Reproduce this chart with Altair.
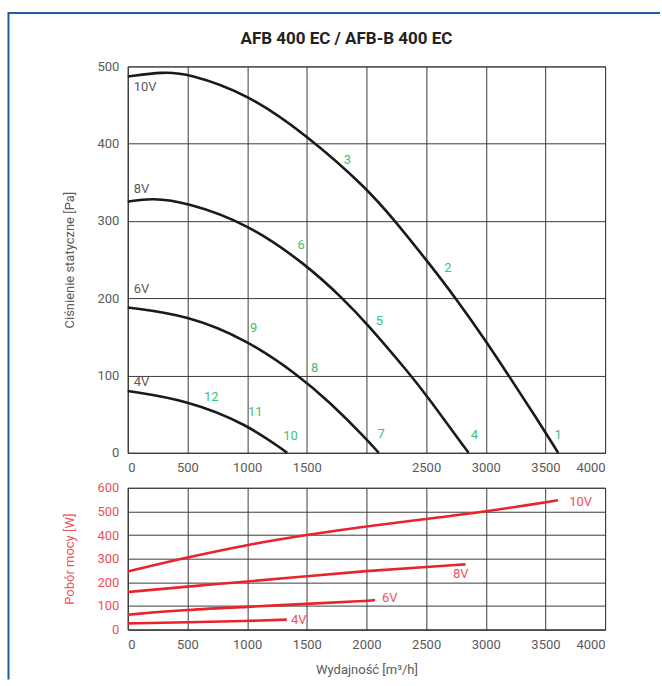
import altair as alt
import pandas as pd

# ---- static pressure curves [Pa] vs airflow [m3/h] ----
p10_x = [0, 300, 500, 1000, 1500, 2000, 2250, 2500, 2750, 3000, 3200, 3400, 3607]
p10_y = [487, 493, 491, 465, 411, 343, 298, 250, 200, 145, 98, 51, 0]
p8_x = [0, 200, 500, 1000, 1500, 1800, 2000, 2374, 2500, 2856]
p8_y = [325, 330, 324, 297, 243, 200, 168, 100, 75, 0]
p6_x = [0, 500, 1000, 1424, 1690, 2000, 2103]
p6_y = [188, 178, 146, 101, 66, 18, 0]
p4_x = [0, 500, 1000, 1336]
p4_y = [80, 68, 37, 0]

# operating point numbers (green)
pt_text = ["1", "2", "3", "4", "5", "6", "7", "8", "9", "10", "11", "12"]
pt_x = [3607, 2683, 1841, 2904, 2109, 1453, 2123, 1565, 1054, 1364, 1069, 700]
pt_y = [23, 239, 379, 23, 171, 269, 24, 110, 161, 22, 53, 72]

# voltage labels on pressure chart
vl_text = ["10V", "8V", "6V", "4V"]
vl_x = [50, 50, 50, 50]
vl_y = [473, 342, 212, 92]

# ---- power consumption [W] ----
w10_x = [0, 500, 1000, 1500, 2000, 2500, 3000, 3605]
w10_y = [246, 306, 359, 401, 437, 468, 499, 547]
w8_x = [0, 500, 1000, 1500, 2000, 2500, 2830]
w8_y = [159, 182, 203, 226, 248, 265, 276]
w6_x = [0, 500, 1000, 1500, 2000, 2072]
w6_y = [63, 84, 96, 109, 121, 125]
w4_x = [0, 500, 1000, 1332]
w4_y = [26, 31, 36, 42]

wl_text = ["10V", "8V", "6V", "4V"]
wl_x = [3700, 2791, 2196, 1367]
wl_y = [540, 234, 132, 42]
wl_align = ["left", "center", "center", "left"]

x_ticks = list(range(0, 4001, 500))
p_ticks = list(range(0, 501, 100))
w_ticks = list(range(0, 601, 100))

FONT = "Roboto"
GRAY = "#5a5a5a"
GRID = "#3c3c3c"
GREEN = "#3dbf72"
RED = "#e8232b"
RED_TXT = "#ee4f55"
BLUE = "#1f5c9c"

W, H1, H2 = 478, 387, 142


def series_df(names, xs, ys):
    rows = []
    for n, xx, yy in zip(names, xs, ys):
        for i, (a, b) in enumerate(zip(xx, yy)):
            rows.append({"s": n, "x": a, "y": b, "o": i})
    return pd.DataFrame(rows)


pres = series_df(["10V", "8V", "6V", "4V"], [p10_x, p8_x, p6_x, p4_x], [p10_y, p8_y, p6_y, p4_y])
powr = series_df(["10V", "8V", "6V", "4V"], [w10_x, w8_x, w6_x, w4_x], [w10_y, w8_y, w6_y, w4_y])
pts = pd.DataFrame({"t": pt_text, "x": pt_x, "y": pt_y})
vls = pd.DataFrame({"t": vl_text, "x": vl_x, "y": vl_y})
wls = pd.DataFrame({"t": wl_text, "x": wl_x, "y": wl_y, "a": wl_align})

xscale = alt.Scale(domain=[0, 4000], nice=False, zero=False)
pscale = alt.Scale(domain=[0, 500], nice=False)
wscale = alt.Scale(domain=[0, 600], nice=False)

x_top_axis = alt.Axis(values=x_ticks, format="d", title=None, labelOverlap=False,
                      labelExpr="datum.value == 2000 ? '' : datum.label")
y_top_axis = alt.Axis(values=p_ticks, format="d", title="Ciśnienie statyczne [Pa]",
                      titleColor=GRAY, titlePadding=20, labelOverlap=False)
x_bot_axis = alt.Axis(values=x_ticks, format="d", title="Wydajność [m³/h]", titleColor=GRAY,
                      titlePadding=12, labelOverlap=False)
y_bot_axis = alt.Axis(values=w_ticks, format="d", title="Pobór mocy [W]", titleColor=RED_TXT,
                      labelColor=RED_TXT, titlePadding=20, labelOverlap=False)


def xt():
    return alt.X("x:Q", scale=xscale, axis=x_top_axis)


def yt():
    return alt.Y("y:Q", scale=pscale, axis=y_top_axis)


def xb():
    return alt.X("x:Q", scale=xscale, axis=x_bot_axis)


def yb():
    return alt.Y("y:Q", scale=wscale, axis=y_bot_axis)


top_lines = alt.Chart(pres).mark_line(color="#1a1a1a", strokeWidth=2.6, interpolate="basis").encode(
    x=xt(), y=yt(), detail="s:N", order="o:Q")
top_pts = alt.Chart(pts).mark_text(color=GREEN, fontSize=13, font=FONT, align="center",
                                   baseline="middle").encode(x=xt(), y=yt(), text="t:N")
top_vl = alt.Chart(vls).mark_text(color=GRAY, fontSize=13, font=FONT, align="left",
                                  baseline="middle").encode(x=xt(), y=yt(), text="t:N")

top = alt.layer(top_lines, top_pts, top_vl).properties(
    width=W, height=H1,
    title=alt.Title("AFB 400 EC / AFB-B 400 EC", fontSize=17, fontWeight="bold", color="#222222",
                    font=FONT, offset=12, dx=-20),
)

bot_lines = alt.Chart(powr).mark_line(color=RED, strokeWidth=2.6, interpolate="basis").encode(
    x=xb(), y=yb(), detail="s:N", order="o:Q")
bot_lbl_left = alt.Chart(wls[wls.a == "left"]).mark_text(
    color=RED_TXT, fontSize=13, font=FONT, align="left", baseline="middle").encode(
    x=xb(), y=yb(), text="t:N")
bot_lbl_center = alt.Chart(wls[wls.a == "center"]).mark_text(
    color=RED_TXT, fontSize=13, font=FONT, align="center", baseline="middle").encode(
    x=xb(), y=yb(), text="t:N")

# decorative frame around the figure (pixel offsets relative to the lower panel)
dummy = pd.DataFrame({"k": [0]})
frame_top = alt.Chart(dummy).mark_rule(color=BLUE, strokeWidth=2).encode(
    x=alt.value(-120), x2=alt.value(533), y=alt.value(-475.5))
frame_left = alt.Chart(dummy).mark_rule(color=BLUE, strokeWidth=2).encode(
    x=alt.value(-119.5), y=alt.value(-476.5), y2=alt.value(192))

bottom = alt.layer(bot_lines, bot_lbl_left, bot_lbl_center, frame_top, frame_left).properties(
    width=W, height=H2)

chart = alt.vconcat(top, bottom, spacing=35, bounds="flush").properties(
    padding={"left": 6, "top": 10, "right": 0, "bottom": 0},
    background="white",
).configure_view(
    stroke=GRID, strokeWidth=1
).configure_axis(
    grid=True, gridColor=GRID, gridWidth=1, gridOpacity=1,
    domainColor=GRID, domainWidth=1, ticks=False, tickSize=0,
    labelFont=FONT, labelFontSize=13, labelColor=GRAY, labelPadding=9,
    titleFont=FONT, titleFontSize=13, titleFontWeight="normal",
)

chart.save("out.html", embed_options={"renderer": "svg", "actions": False})
